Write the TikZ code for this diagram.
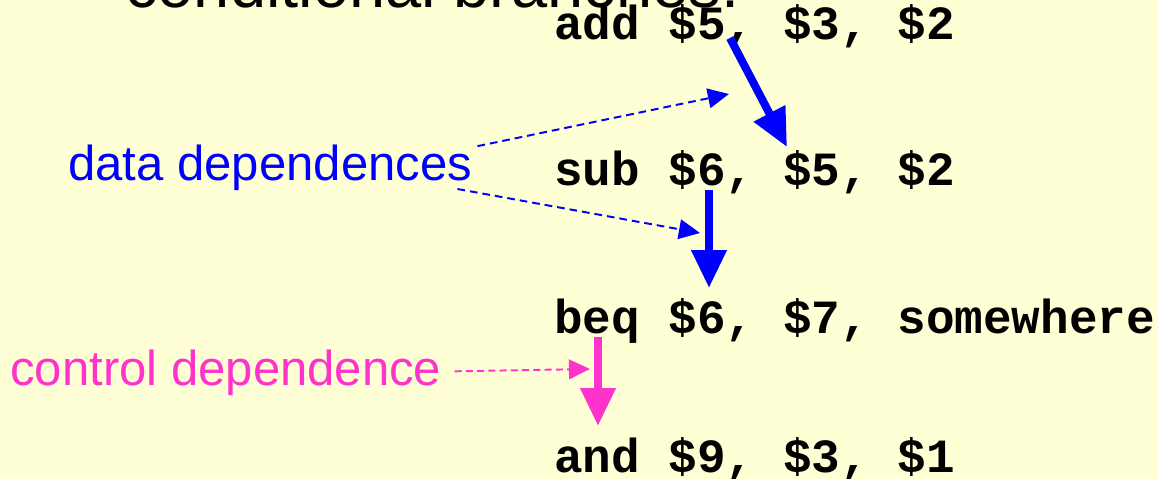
\documentclass[tikz,border=0pt]{standalone}
\usepackage{fontspec}
\setmainfont{Liberation Sans}
\setmonofont{Liberation Mono}
\usetikzlibrary{arrows.meta,calc}
\definecolor{BgClr}{RGB}{255,255,214}
\definecolor{DataClr}{RGB}{0,0,255}
\definecolor{CtrlClr}{RGB}{255,51,204}

\tikzset{
  instr/.style={anchor=base west,inner sep=0pt,
    font=\fontsize{33.9pt}{40pt}\selectfont\ttfamily\bfseries},
  remark/.style={anchor=base west,inner sep=0pt,
    font=\fontsize{34.9pt}{40pt}\selectfont},
  depend/.style={line width=5.7pt,-{Triangle[length=27pt,width=24pt]}},
  pointer/.style={line width=1.4pt,dash pattern=on 5.5pt off 3.5pt,
    -{Triangle[length=15pt,width=14pt]}},
}

\begin{document}
\begin{tikzpicture}[x=0.025cm,y=-0.025cm]
\fill[BgClr] (0,0) rectangle (1158,479);
\useasboundingbox (0,0) rectangle (1158,479);

% heading line, mostly above the frame
\node[remark,font=\fontsize{46.2pt}{50pt}\selectfont] (title) at (125,8) {conditional branches:};

% instruction sequence
\node[instr] (I1) at (554,40)  {add \$5, \$3, \$2};
\node[instr] (I2) at (554,185) {sub \$6, \$5, \$2};
\node[instr] (I3) at (554,333) {beq \$6, \$7, somewhere};
\node[instr] (I4) at (554,472) {and \$9, \$3, \$1};

% labels
\node[remark,text=DataClr] (D) at (68,180) {data dependences};
\node[remark,text=CtrlClr] (C) at (10,385) {control dependence};

% arrow ends
\coordinate (R1) at (730,38);
\coordinate (W1) at (787,147);
\coordinate (R2) at (709,190);
\coordinate (W2) at (709,288);
\coordinate (R3) at (598,337);
\coordinate (W3) at (598,426);
\coordinate (P1) at (729,94);
\coordinate (P2) at (700,233);
\coordinate (P3) at (590,369);

% dependence arrows
\draw[depend,DataClr] (R1) -- (W1);
\draw[depend,DataClr] (R2) -- (W2);
\draw[depend,CtrlClr] (R3) -- (W3);

% pointers from the labels
\draw[pointer,DataClr] ($(D.north east)+(5,2)$) -- (P1);
\draw[pointer,DataClr] ($(D.base east)+(-15,9)$) -- (P2);
\draw[pointer,CtrlClr,dash pattern=on 5pt off 3pt] ($(C.east)+(13,-1)$) -- (P3);

\end{tikzpicture}
\end{document}
